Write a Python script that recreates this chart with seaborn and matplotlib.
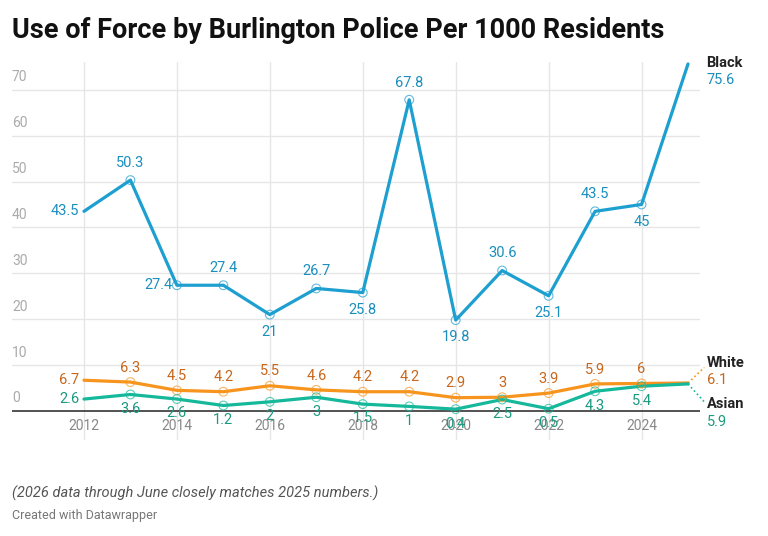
import matplotlib
matplotlib.use("Agg")
import matplotlib.pyplot as plt
import seaborn as sns
import pandas as pd

years = list(range(2012, 2026))
black = [43.5, 50.3, 27.4, 27.4, 21, 26.7, 25.8, 67.8, 19.8, 30.6, 25.1, 43.5, 45, 75.6]
white = [6.7, 6.3, 4.5, 4.2, 5.5, 4.6, 4.2, 4.2, 2.9, 3, 3.9, 5.9, 6, 6.1]
asian = [2.6, 3.6, 2.6, 1.2, 2, 3, 1.5, 1, 0.4, 2.5, 0.5, 4.3, 5.4, 5.9]
y_ticks = [0, 10, 20, 30, 40, 50, 60, 70]

# label placement per point: a=above, b=below, l=left
black_pos = ["l", "a", "l", "a", "b", "a", "b", "a", "b", "a", "b", "a", "b", "r"]

BLUE, BLUE_T = "#1d9fd0", "#1a8fbd"
ORANGE, ORANGE_T = "#f7941d", "#c8661b"
TEAL, TEAL_T = "#15b89a", "#1a9a7f"

sns.set_style("white")
plt.rcParams["font.family"] = ["Roboto", "DejaVu Sans"]

fig = plt.figure(figsize=(7.68, 5.36), dpi=100)
W, H = 768, 536
x0, x1 = 12, 700
ytop, ybot = 62, 440
ax = fig.add_axes([x0 / W, 1 - ybot / H, (x1 - x0) / W, (ybot - ytop) / H])
xl = 2012 - 72 / 46.5
ax.set_xlim(xl, 2025 + 12 / 46.5)
ax.set_ylim(-(ybot - 411) / 4.59, (411 - ytop) / 4.59)
for s in ax.spines.values():
    s.set_visible(False)
ax.set_xticks([])
ax.set_yticks([])

for y in y_ticks[1:]:
    ax.axhline(y, color="#e6e6e6", lw=1, zorder=0)
    ax.text(xl, y + 1.2, str(y), color="#aaaaaa", fontsize=10, va="bottom", ha="left")
ax.text(xl, 1.2, "0", color="#aaaaaa", fontsize=10, va="bottom", ha="left")
ax.axhline(0, color="#444444", lw=1.3, zorder=1)
for yr in range(2012, 2025, 2):
    ax.axvline(yr, color="#e6e6e6", lw=1, zorder=0)
    ax.text(yr, -1.7, str(yr), color="#888888", fontsize=10, ha="center", va="top")

df = pd.DataFrame({"year": years * 3,
                   "value": black + white + asian,
                   "group": ["Black"] * 14 + ["White"] * 14 + ["Asian"] * 14})
sns.lineplot(data=df, x="year", y="value", hue="group",
             palette={"Black": BLUE, "White": ORANGE, "Asian": TEAL},
             lw=2.3, legend=False, ax=ax, zorder=3)
for vals, c in [(black, BLUE), (white, ORANGE), (asian, TEAL)]:
    ax.scatter(years[1:-1], vals[1:-1], s=40, facecolors="none", edgecolors=c,
               linewidths=0.8, alpha=0.7, zorder=4)

def fmt(v):
    return f"{v:g}"

for yr, v, p in zip(years, black, black_pos):
    if p == "a":
        ax.text(yr, v + 2.2, fmt(v), color=BLUE_T, fontsize=10.5, ha="center", va="bottom")
    elif p == "b":
        ax.text(yr, v - 2.2, fmt(v), color=BLUE_T, fontsize=10.5, ha="center", va="top")
    elif p == "l":
        ax.text(yr - 0.1, v, fmt(v), color=BLUE_T, fontsize=10.5, ha="right", va="center")
for yr, v in zip(years[:-1], white[:-1]):
    if yr == 2012:
        ax.text(yr - 0.1, v, fmt(v), color=ORANGE_T, fontsize=10.5, ha="right", va="center")
    else:
        ax.text(yr, v + 1.6, fmt(v), color=ORANGE_T, fontsize=10.5, ha="center", va="bottom")
for yr, v in zip(years[:-1], asian[:-1]):
    if yr == 2012:
        ax.text(yr - 0.1, v, fmt(v), color=TEAL_T, fontsize=10.5, ha="right", va="center")
    else:
        ax.text(yr, v - 1.6, fmt(v), color=TEAL_T, fontsize=10.5, ha="center", va="top")

# end labels
xe = 2025 + 0.4
ax.text(xe, 75.8, "Black", fontsize=10.5, fontweight="bold", color="#222222", va="center", clip_on=False)
ax.text(xe, 72.1, fmt(black[-1]), fontsize=10.5, color=BLUE_T, va="center", clip_on=False)
ax.text(xe, 10.5, "White", fontsize=10.5, fontweight="bold", color="#222222", va="center", clip_on=False)
ax.text(xe, 6.8, fmt(white[-1]), fontsize=10.5, color=ORANGE_T, va="center", clip_on=False)
ax.text(xe, 1.5, "Asian", fontsize=10.5, fontweight="bold", color="#222222", va="center", clip_on=False)
ax.text(xe, -2.3, fmt(asian[-1]), fontsize=10.5, color=TEAL_T, va="center", clip_on=False)
ax.plot([2025, xe - 0.05], [white[-1], 9.5], ls=":", color=ORANGE, lw=1.2, clip_on=False)
ax.plot([2025, xe - 0.05], [asian[-1], 2.0], ls=":", color=TEAL, lw=1.2, clip_on=False)

fig.text(12 / W, 1 - 30 / H, "Use of Force by Burlington Police Per 1000 Residents",
         fontsize=19.5, fontweight="bold", color="#111111", va="center")
fig.text(12 / W, 1 - 493 / H, "(2026 data through June closely matches 2025 numbers.)",
         fontsize=10.5, style="italic", color="#555555", va="center")
fig.text(12 / W, 1 - 516 / H, "Created with Datawrapper", fontsize=9, color="#777777", va="center")

fig.savefig("out.png", dpi=100)
